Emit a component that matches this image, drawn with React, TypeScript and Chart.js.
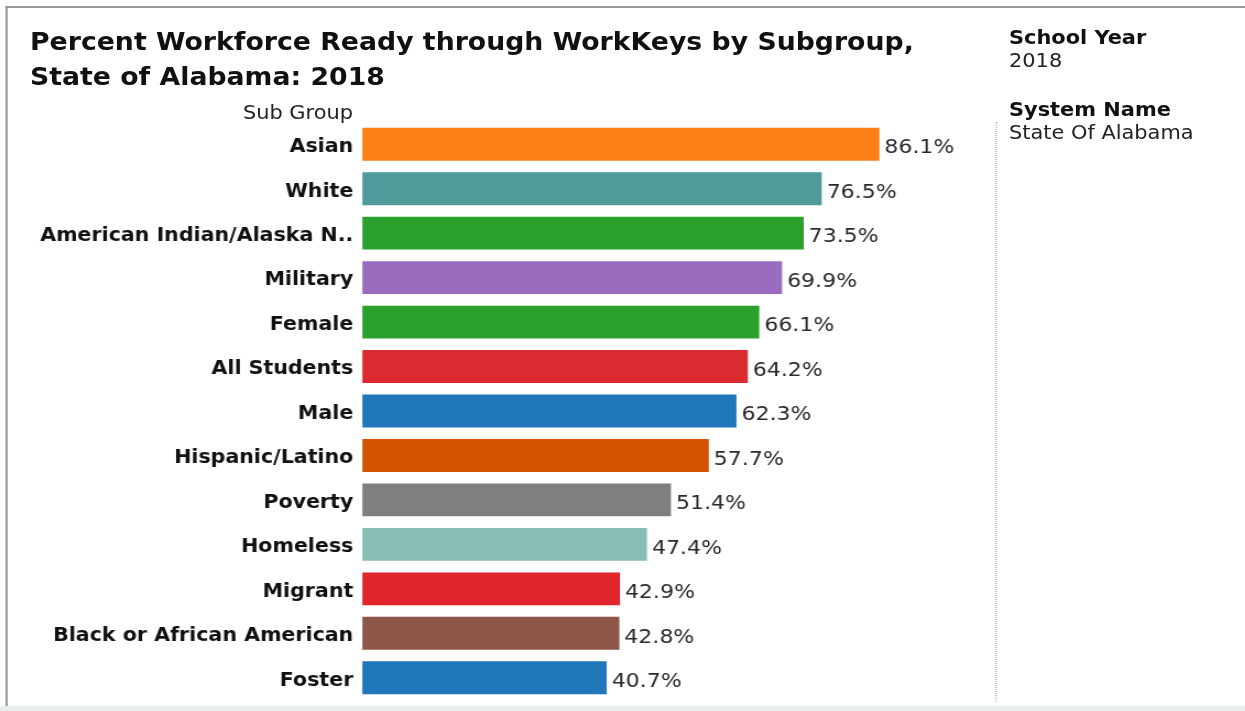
import React, { useEffect, useRef } from "react";
import { Chart, registerables } from "chart.js";

Chart.register(...registerables);

const categories = [
  "Asian",
  "White",
  "American Indian/Alaska N..",
  "Military",
  "Female",
  "All Students",
  "Male",
  "Hispanic/Latino",
  "Poverty",
  "Homeless",
  "Migrant",
  "Black or African American",
  "Foster",
];

const values = [86.1, 76.5, 73.5, 69.9, 66.1, 64.2, 62.3, 57.7, 51.4, 47.4, 42.9, 42.8, 40.7];

const barColors = [
  "#fd7f17",
  "#4f9a9a",
  "#2ca02c",
  "#9a6cc0",
  "#2ca02c",
  "#db2a30",
  "#1f77b9",
  "#d25400",
  "#7f7f7f",
  "#86bdb5",
  "#e0252b",
  "#8c5548",
  "#1f77b9",
];

const titleLines = ["Percent Workforce Ready through WorkKeys by Subgroup,", "State of Alabama: 2018"];
const axisTitle = "Sub Group";
const filterPanel = [
  { heading: "School Year", value: "2018" },
  { heading: "System Name", value: "State Of Alabama" },
];

const FONT = "'DejaVu Sans', Verdana, sans-serif";
// The reference uses a wide (Verdana-like) face; the whole view is stretched horizontally.
const S = 1.1;
const W = 1245 / S;
const px = (x: number) => x / S;

const valueLabels = {
  id: "valueLabels",
  afterDatasetsDraw(chart: any) {
    const ctx = chart.ctx;
    const meta = chart.getDatasetMeta(0);
    ctx.save();
    ctx.font = `20px ${FONT}`;
    ctx.fillStyle = "#2a2a2a";
    ctx.textBaseline = "middle";
    ctx.textAlign = "left";
    meta.data.forEach((bar: any, i: number) => {
      ctx.fillText(values[i].toFixed(1) + "%", bar.x + px(5), bar.y + 4);
    });
    ctx.restore();
  },
};

export default function App() {
  const canvasRef = useRef<HTMLCanvasElement | null>(null);

  useEffect(() => {
    if (!canvasRef.current) return;
    const chart = new Chart(canvasRef.current, {
      type: "bar",
      data: {
        labels: categories,
        datasets: [
          {
            data: values,
            backgroundColor: barColors,
            borderWidth: 0,
            categoryPercentage: 0.74,
            barPercentage: 1,
          },
        ],
      },
      options: {
        indexAxis: "y",
        animation: false,
        responsive: true,
        maintainAspectRatio: false,
        layout: { padding: { top: 122, bottom: 11, left: 0, right: W - px(962) } },
        plugins: {
          legend: { display: false },
          tooltip: { enabled: false },
        },
        scales: {
          x: {
            display: false,
            min: 0,
            max: 100,
          },
          y: {
            grid: { display: false, drawTicks: false },
            border: { display: false },
            ticks: {
              padding: px(9),
              labelOffset: 3,
              color: "#111",
              font: { family: FONT, size: 18.7, weight: "bold" },
            },
            afterFit(scale: any) {
              scale.width = px(362);
              scale.paddingTop = 0;
              scale.paddingBottom = 0;
            },
          },
        },
      },
      plugins: [valueLabels],
    });
    return () => chart.destroy();
  }, []);

  return (
    <div
      style={{
        position: "absolute",
        left: 0,
        top: 0,
        width: 1245,
        height: 711,
        background: "#ffffff",
        overflow: "hidden",
      }}
    >
      <div
        style={{
          position: "absolute",
          left: 0,
          top: 0,
          width: W,
          height: 711,
          transform: `scaleX(${S})`,
          transformOrigin: "0 0",
          fontFamily: FONT,
        }}
      >
        <div
          style={{
            position: "absolute",
            left: px(6),
            top: 6,
            width: W,
            height: 698,
            borderTop: "2px solid #9a9a9a",
            borderLeft: "2px solid #9a9a9a",
            borderBottom: "2px solid #c8c8c8",
          }}
        />
        <div style={{ position: "absolute", left: 0, top: 706, width: W, height: 5, background: "#e9ecec" }} />
        <div
          style={{
            position: "absolute",
            left: px(996),
            top: 122,
            height: 580,
            width: 0,
            borderLeft: "1px dotted #a8a8a8",
          }}
        />
        <div style={{ position: "absolute", left: 0, top: 0, width: W, height: 711 }}>
          <canvas ref={canvasRef} />
        </div>
        <div
          style={{
            position: "absolute",
            left: px(30),
            top: 24,
            fontSize: 24.3,
            lineHeight: "35px",
            fontWeight: "bold",
            color: "#111",
            whiteSpace: "nowrap",
          }}
        >
          {titleLines.map((t) => (
            <div key={t}>{t}</div>
          ))}
        </div>
        <div
          style={{
            position: "absolute",
            left: 0,
            width: px(353),
            top: 101,
            textAlign: "right",
            fontSize: 19,
            lineHeight: "22px",
            color: "#222",
            whiteSpace: "nowrap",
          }}
        >
          {axisTitle}
        </div>
        {filterPanel.map((f, i) => (
          <div
            key={f.heading}
            style={{
              position: "absolute",
              left: px(1009),
              top: 26 + i * 72,
              fontSize: 19,
              lineHeight: "23px",
              color: "#111",
              whiteSpace: "nowrap",
            }}
          >
            <div style={{ fontWeight: "bold" }}>{f.heading}</div>
            <div style={{ color: "#222" }}>{f.value}</div>
          </div>
        ))}
      </div>
    </div>
  );
}
